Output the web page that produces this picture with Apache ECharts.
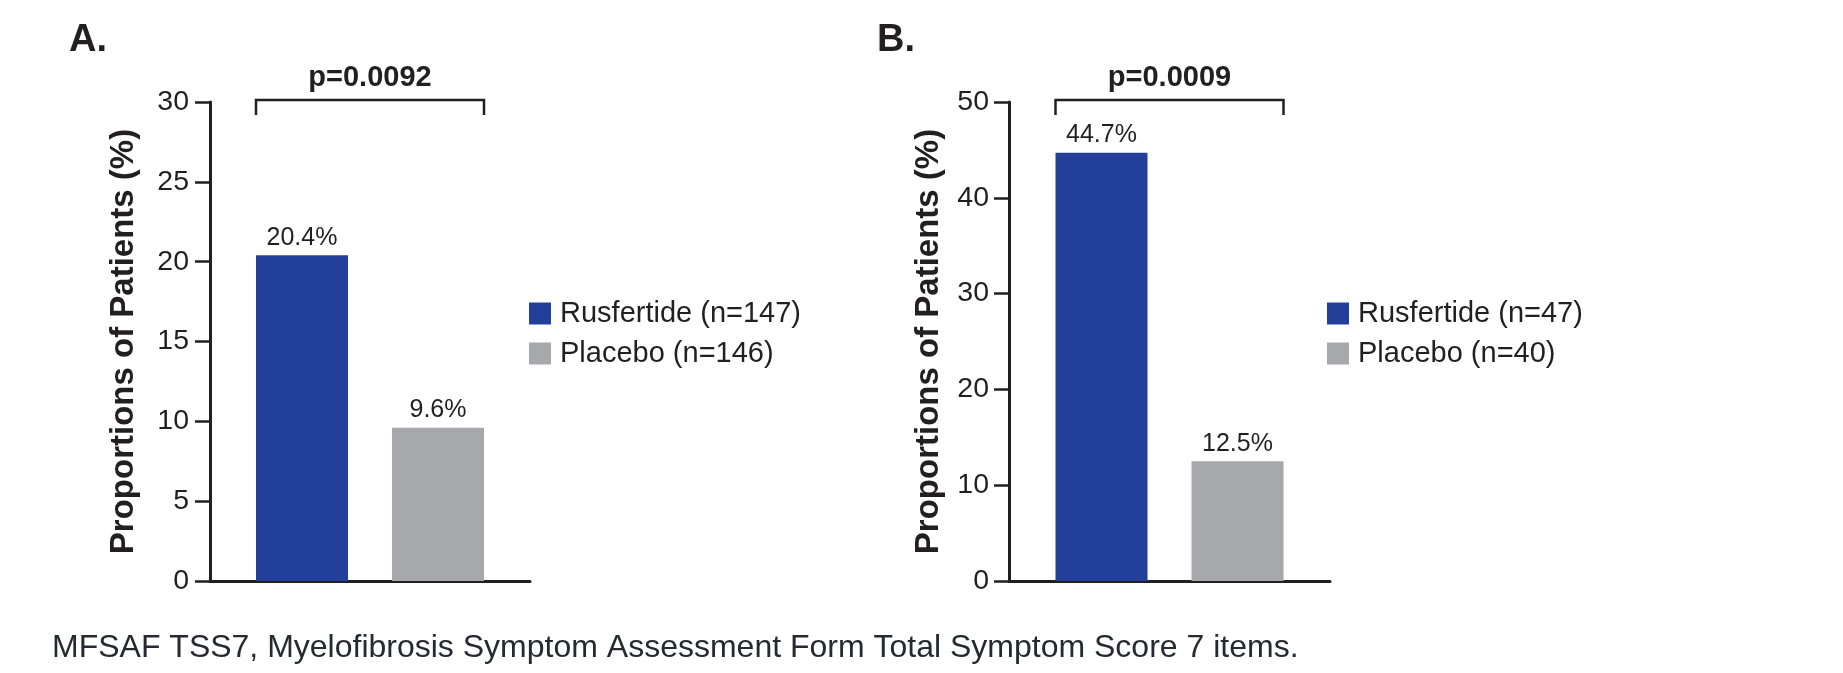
<!DOCTYPE html>
<html><head><meta charset="utf-8">
<script src="https://cdn.jsdelivr.net/npm/echarts@6/dist/echarts.min.js"></script>
<style>html,body{margin:0;padding:0;background:#fff}#c{width:1843px;height:673px}</style>
</head><body><div id="c"></div>
<script>
// ---- data ----
const panelLetters = ['A.', 'B.'];
const categories = ['MFSAF TSS7'];
const legendA = ['Rusfertide (n=147)', 'Placebo (n=146)'];
const legendB = ['Rusfertide (n=47)', 'Placebo (n=40)'];
const valuesA = [20.4, 9.6];
const valuesB = [44.7, 12.5];
const pValues = ['p=0.0092', 'p=0.0009'];
const yMax = [30, 50];
const yInterval = [5, 10];
const yAxisTitle = 'Proportions of Patients (%)';
const footnote = 'MFSAF TSS7, Myelofibrosis Symptom Assessment Form Total Symptom Score 7 items.';

// ---- style ----
const FONT = '"Liberation Sans", Arial, Helvetica, sans-serif';
const INK = '#231f20';
const COLORS = ['#22409a', '#a7a8ab'];
const BAR_W = 92, BAR_GAP_PX = 44;

const chart = echarts.init(document.getElementById('c'), null, {renderer: 'canvas'});

const grids = [
  {left: 210, top: 102, width: 320, height: 479},
  {left: 1009, top: 102, width: 321, height: 479}
];
const labelMargins = [21, 20];
const nameGaps = [70, 64];
const legendLefts = [529, 1327];
const legendNames = [legendA, legendB];
const values = [valuesA, valuesB];

const xAxes = [], yAxes = [], series = [], legends = [];
for (let p = 0; p < 2; p++) {
  xAxes.push({
    type: 'category', gridIndex: p, data: categories,
    axisLine: {show: true, lineStyle: {color: INK, width: 3}},
    axisTick: {show: false}, axisLabel: {show: false}
  });
  yAxes.push({
    type: 'value', gridIndex: p, min: 0, max: yMax[p], interval: yInterval[p],
    splitLine: {show: false},
    axisLine: {show: true, lineStyle: {color: INK, width: 3}},
    axisTick: {show: true, length: 15, lineStyle: {color: INK, width: 2.5}},
    axisLabel: {color: INK, fontSize: 28.5, fontFamily: FONT, margin: labelMargins[p]},
    name: yAxisTitle, nameLocation: 'middle', nameRotate: 90, nameGap: nameGaps[p],
    nameTextStyle: {color: INK, fontSize: 33, fontWeight: 'bold', fontFamily: FONT}
  });
  legends.push({
    data: legendNames[p], orient: 'vertical', left: legendLefts[p], top: 299,
    padding: 0, itemWidth: 22, itemHeight: 22, itemGap: 11,
    icon: 'rect',
    textStyle: {color: INK, fontSize: 29, fontFamily: FONT, padding: [0, 0, 0, 4]}
  });
  for (let s = 0; s < 2; s++) {
    series.push({
      type: 'bar', name: legendNames[p][s], xAxisIndex: p, yAxisIndex: p,
      data: [values[p][s]], barWidth: BAR_W, barGap: (BAR_GAP_PX / BAR_W * 100) + '%',
      itemStyle: {color: COLORS[s]},
      label: {show: true, position: 'top', distance: 5, formatter: '{c}%',
              color: INK, fontSize: 25, fontFamily: FONT},
      emphasis: {disabled: true}, animation: false
    });
  }
}

chart.setOption({
  animation: false,
  grid: grids, xAxis: xAxes, yAxis: yAxes, series: series, legend: legends
});

// annotations computed from the axes
const graphics = [];
const letterX = [69, 877];
for (let p = 0; p < 2; p++) {
  const top = chart.convertToPixel({gridIndex: p}, [0, yMax[p]]);
  const cx = top[0], ty = top[1] - 2;
  const half = BAR_GAP_PX / 2 + BAR_W;
  graphics.push({
    type: 'polyline', silent: true,
    shape: {points: [[cx - half, ty + 15], [cx - half, ty], [cx + half, ty], [cx + half, ty + 15]]},
    style: {stroke: INK, lineWidth: 2.5, fill: null}
  });
  graphics.push({
    type: 'text', silent: true, x: cx, y: ty - 22,
    style: {text: pValues[p], fill: INK, font: 'bold 29px ' + FONT, textAlign: 'center', textVerticalAlign: 'middle'}
  });
  graphics.push({
    type: 'text', silent: true, x: letterX[p], y: 41,
    style: {text: panelLetters[p], fill: INK, font: 'bold 38px ' + FONT, textAlign: 'left', textVerticalAlign: 'middle'}
  });
}
graphics.push({
  type: 'text', silent: true, x: 52, y: 648,
  style: {text: footnote, fill: '#262a30', font: '32px ' + FONT, textAlign: 'left', textVerticalAlign: 'middle'}
});
chart.setOption({graphic: graphics});
</script>
</body></html>
